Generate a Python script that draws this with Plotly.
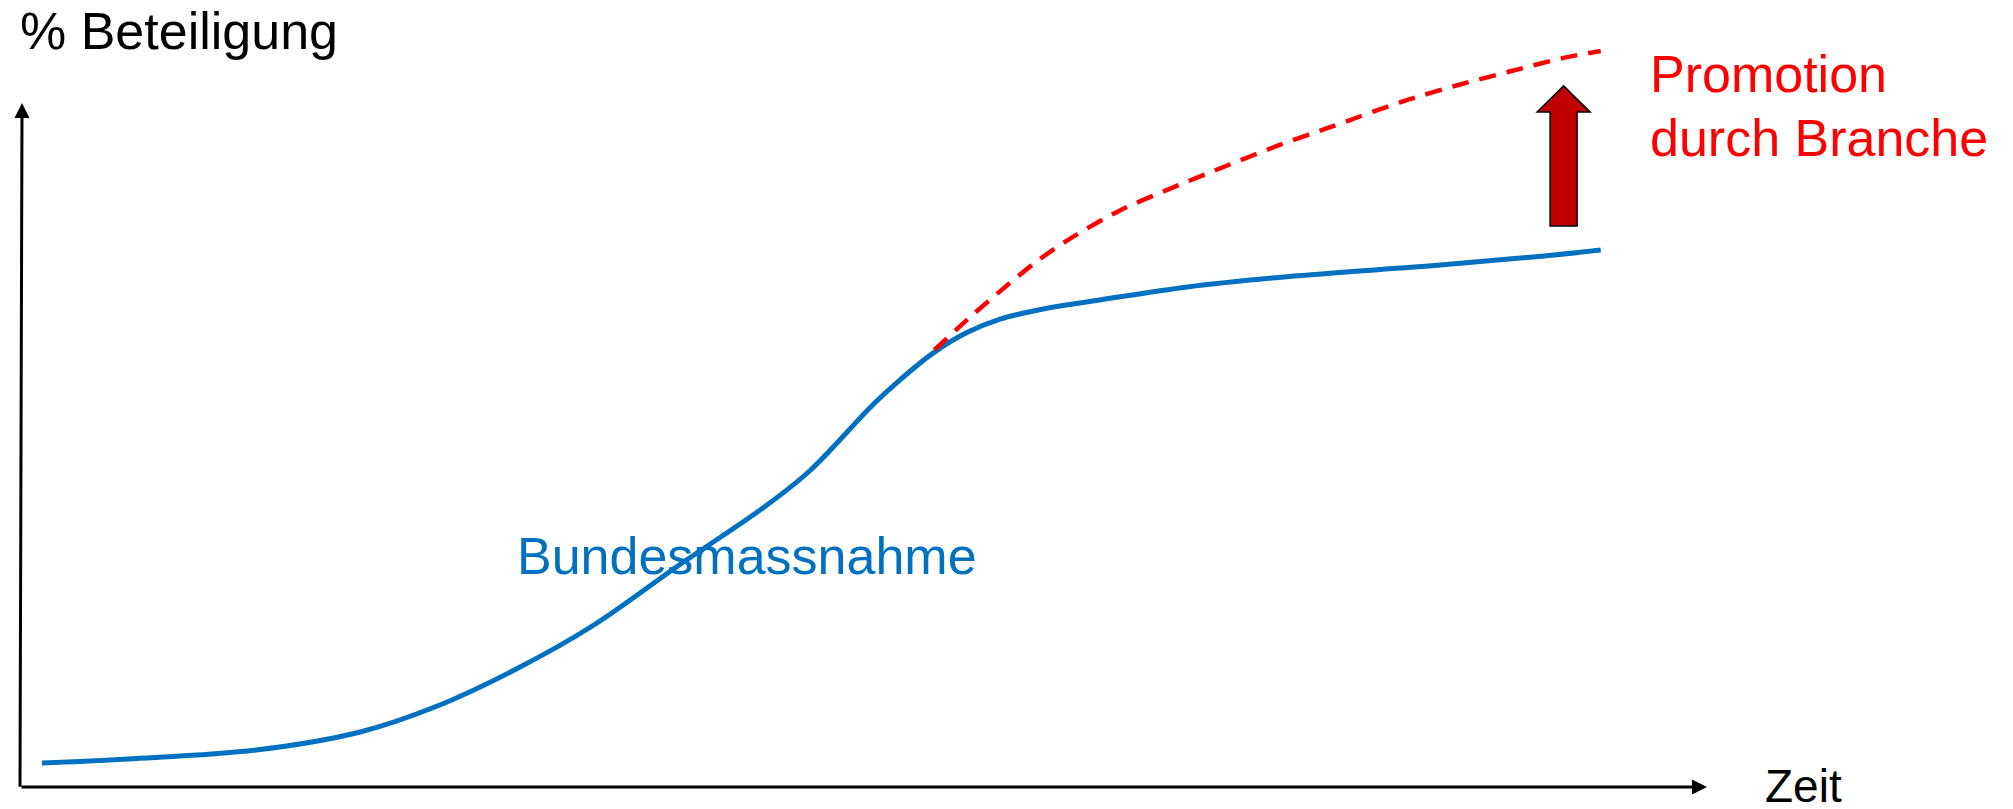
import plotly.graph_objects as go

# Participation over time (arbitrary units: time 0-100, participation 0-100)
zeit_bund = [1.3, 6.4, 14.0, 20.1, 24.7, 29.3, 33.9, 39.1, 44.1, 46.8, 50.6,
             52.2, 54.1, 56.1, 58.1, 61.1, 64.0, 69.2, 75.1, 84.2, 90.2, 93.7]
beteiligung_bund = [3.5, 4.1, 5.4, 8.0, 11.8, 17.1, 23.5, 32.5, 40.9, 46.2, 56.0,
                    59.6, 63.4, 66.4, 68.4, 70.1, 71.2, 73.1, 74.6, 76.3, 77.6, 78.5]

zeit_branche = [54.2, 56.5, 58.3, 60.3, 62.2, 65.2, 68.4, 71.6, 74.7, 77.7,
                81.8, 85.2, 88.3, 91.5, 93.7]
beteiligung_branche = [63.9, 69.1, 72.9, 76.9, 80.1, 84.3, 87.7, 90.9, 93.9, 96.5,
                       100.1, 102.6, 104.6, 106.6, 107.6]

# Block arrow marking the uplift (x position, bottom, tip)
pfeil_x = 91.5
pfeil_unten = 82.0
pfeil_spitze = 102.5

BLUE = "#0070C0"
RED = "#FF0000"
FONT = "Arial, Liberation Sans, sans-serif"

W, H = 2013, 809
# pixel frame of the drawn axes
X0_PX, X1_PX = 20, 1707
Y0_PX, Y1_PX = 787, 103
sx = (X1_PX - X0_PX) / 100.0
sy = (Y0_PX - Y1_PX) / 100.0
x_range = [-X0_PX / sx, (W - X0_PX) / sx]
y_range = [-(H - Y0_PX) / sy, Y0_PX / sy]

fig = go.Figure()

fig.add_trace(go.Scatter(
    x=zeit_bund, y=beteiligung_bund, mode="lines",
    line=dict(color=BLUE, width=5, shape="spline", smoothing=1.0),
    hoverinfo="skip",
))
fig.add_trace(go.Scatter(
    x=zeit_branche, y=beteiligung_branche, mode="lines",
    line=dict(color=RED, width=4.5, dash="17px,11px", shape="spline", smoothing=0.8),
    hoverinfo="skip",
))

# block arrow: head half-width, shaft half-width, head length (data units)
hw, sw, hl = 1.57, 0.80, 3.8
hb = pfeil_spitze - hl
path = (f"M{pfeil_x - sw},{pfeil_unten} L{pfeil_x - sw},{hb} L{pfeil_x - hw},{hb} "
        f"L{pfeil_x},{pfeil_spitze} L{pfeil_x + hw},{hb} L{pfeil_x + sw},{hb} "
        f"L{pfeil_x + sw},{pfeil_unten} Z")
fig.add_shape(type="path", path=path, xref="x", yref="y",
              fillcolor="#C00000", line=dict(color="black", width=1.5))

annotations = [
    # axes as arrows
    dict(x=100, y=0, ax=0, ay=0, xref="x", yref="y", axref="x", ayref="y",
         text="", showarrow=True, arrowhead=2, arrowsize=1, arrowwidth=3,
         arrowcolor="black"),
    dict(x=0.12, y=100, ax=0, ay=-0.2, xref="x", yref="y", axref="x", ayref="y",
         text="", showarrow=True, arrowhead=2, arrowsize=1, arrowwidth=3,
         arrowcolor="black"),
    dict(text="% Beteiligung", x=18 / W, y=1 - 31 / H, xref="paper", yref="paper",
         xanchor="left", yanchor="middle", showarrow=False,
         font=dict(family=FONT, size=52, color="black")),
    dict(text="Zeit", x=1763 / W, y=1 - 786 / H, xref="paper", yref="paper",
         xanchor="left", yanchor="middle", showarrow=False,
         font=dict(family=FONT, size=46, color="black")),
    dict(text="Promotion", x=1648 / W, y=1 - 74 / H,
         xref="paper", yref="paper", xanchor="left", yanchor="middle",
         showarrow=False, font=dict(family=FONT, size=52, color=RED)),
    dict(text="durch Branche", x=1648 / W, y=1 - 138 / H,
         xref="paper", yref="paper", xanchor="left", yanchor="middle",
         showarrow=False, font=dict(family=FONT, size=52, color=RED)),
    dict(text="Bundesmassnahme", x=515 / W, y=1 - 556 / H,
         xref="paper", yref="paper", xanchor="left", yanchor="middle",
         showarrow=False, font=dict(family=FONT, size=52, color=BLUE)),
]

fig.update_layout(
    width=W, height=H,
    margin=dict(l=0, r=0, t=0, b=0),
    paper_bgcolor="white", plot_bgcolor="white",
    showlegend=False,
    xaxis=dict(range=x_range, visible=False, fixedrange=True),
    yaxis=dict(range=y_range, visible=False, fixedrange=True),
    annotations=annotations,
)

fig.write_html("out.html")
